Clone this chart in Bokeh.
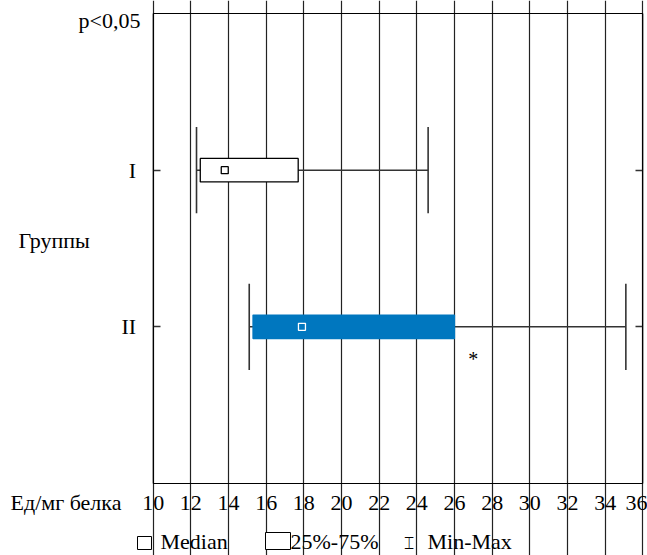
from bokeh.plotting import figure
from bokeh.models import (FixedTicker, LinearAxis, Label, ColumnDataSource,
                          BoxAnnotation, Range1d)
from bokeh.core.properties import value
from bokeh.embed import file_html
from bokeh.resources import INLINE

# ---- data ----
groups = ["I", "II"]
mins = [12.3, 15.1]
q1 = [12.5, 15.3]
medians = [13.8, 17.9]
q3 = [17.7, 26.0]
maxs = [24.6, 35.1]
box_fill = ["white", "#0077BF"]
box_line = ["black", "#0077BF"]
median_line = ["black", "white"]
median_fill = ["white", "#0077BF"]
x_ticks = [10, 12, 14, 16, 18, 20, 22, 24, 26, 28, 30, 32, 34, 36]
star_values = [27.0]
star_groups = ["II"]

SERIF = "Liberation Serif"
FS = "22px"
W, H = 647, 555

# plot-area placement in canvas pixels (frame spans whole canvas)
PL, PR, PT, PB = 152.7, 642.3, 13.0, 483.0
xmin, xmax = x_ticks[0], x_ticks[-1]
n = len(groups)
ymin, ymax = 0, n + 1
kx = (PR - PL) / (xmax - xmin)
ky = (PB - PT) / (ymax - ymin)
x_range = Range1d(xmin - PL / kx, xmax + (W - PR) / kx)
y_range = Range1d(ymin - (H - PB) / ky, ymax + PT / ky)

ypos = [n - i for i in range(n)]          # I -> 2, II -> 1
ymap = dict(zip(groups, ypos))
cap = 0.275
half_box = 0.075

src = ColumnDataSource(dict(
    y=ypos, ytop=[y + cap for y in ypos], ybot=[y - cap for y in ypos],
    btop=[y + half_box for y in ypos], bbot=[y - half_box for y in ypos],
    mn=mins, q1=q1, med=medians, q3=q3, mx=maxs,
    bfill=box_fill, bline=box_line, mline=median_line, mfill=median_fill,
))

p = figure(width=W, height=H, output_backend="svg", toolbar_location=None,
           x_range=x_range, y_range=y_range, min_border=0)
p.background_fill_color = "white"
p.border_fill_color = "white"
p.outline_line_color = None

# grid
p.xgrid.ticker = FixedTicker(ticks=x_ticks)
p.xgrid.bounds = (ymin, ymax)
p.xgrid.grid_line_color = "#222222"
p.xgrid.grid_line_width = 1.2
p.ygrid.grid_line_color = None

# bottom axis
xa = p.xaxis[0]
xa.fixed_location = ymin
xa.bounds = (xmin, xmax)
xa.ticker = FixedTicker(ticks=x_ticks)
xa.major_tick_in = 0
xa.major_tick_out = 0
xa.minor_tick_line_color = None
xa.major_label_standoff = 12
xa.major_label_text_font = SERIF
xa.major_label_text_font_size = FS
xa.major_label_text_color = "black"
xa.axis_line_color = "black"

# left axis
ya = p.yaxis[0]
ya.fixed_location = xmin
ya.bounds = (ymin, ymax)
ya.ticker = FixedTicker(ticks=ypos)
ya.major_label_overrides = {y: g for y, g in zip(ypos, groups)}
ya.major_tick_in = 7
ya.major_tick_out = 0
ya.major_tick_line_color = "#333333"
ya.major_tick_line_width = 1.5
ya.minor_tick_line_color = None
ya.major_label_standoff = 17
ya.major_label_text_font = SERIF
ya.major_label_text_font_size = FS
ya.major_label_text_color = "black"
ya.axis_line_color = "black"

# right axis (ticks only)
ra = LinearAxis(fixed_location=xmax, bounds=(ymin, ymax), ticker=FixedTicker(ticks=ypos),
                major_tick_in=7, major_tick_out=0,
                major_label_overrides={y: "" for y in ypos}, major_label_standoff=0,
                minor_tick_line_color=None, major_tick_line_color="#333333",
                major_tick_line_width=1.5, axis_line_color="black")
p.add_layout(ra, "right")

# plot-area border
p.add_layout(BoxAnnotation(left=xmin, right=xmax, bottom=ymin, top=ymax,
                           fill_alpha=0, line_color="black", line_width=1, line_alpha=1))

# whiskers
p.segment(x0="mn", x1="mx", y0="y", y1="y", source=src, line_color="#333333", line_width=1.5)
p.segment(x0="mn", x1="mn", y0="ybot", y1="ytop", source=src, line_color="#333333", line_width=1.6)
p.segment(x0="mx", x1="mx", y0="ybot", y1="ytop", source=src, line_color="#333333", line_width=1.6)
# boxes
p.quad(left="q1", right="q3", bottom="bbot", top="btop", source=src,
       fill_color="bfill", line_color="bline", line_width=1.3)
# medians
p.scatter(x="med", y="y", source=src, marker="square", size=7,
          fill_color="mfill", line_color="mline", line_width=1.3)

# asterisk
star_src = ColumnDataSource(dict(x=star_values, y=[ymap[g] for g in star_groups],
                                 t=["*"] * len(star_values)))
p.text(x="x", y="y", text="t", source=star_src, text_font=value(SERIF), text_font_size="20px",
       text_align="center", text_baseline="middle", y_offset=32, text_color="black")

TEXT_SHIFT = 8  # renderer places alphabetic baseline this much lower

def lab(txt, x, ybase, align="left", font=SERIF, size=FS, shift=TEXT_SHIFT):
    # x, ybase: canvas pixels from the top-left corner
    p.add_layout(Label(x=x, y=H - ybase + shift, x_units="screen", y_units="screen", text=txt,
                       text_align=align, text_baseline="alphabetic",
                       text_font=font, text_font_size=size, text_color="black"))

def box(l, r, t, b):
    p.add_layout(BoxAnnotation(left=l, right=r, top=H - t, bottom=H - b,
                               left_units="screen", right_units="screen",
                               top_units="screen", bottom_units="screen",
                               fill_color="white", fill_alpha=1,
                               line_color="black", line_width=1, line_alpha=1))

lab("p<0,05", 140, 28, align="right")
lab("Группы", 18, 248)
lab("Ед/мг белка", 10, 510)

# legend
LB = 549  # legend baseline
box(137, 151, LB - 13, LB)
lab("Median", 160, LB)
box(265, 290, LB - 17, LB)
lab("25%-75%", 290, LB)
lab("\u2336", 408, LB - 1, align="center", font="DejaVu Sans", size="17px", shift=6)
lab("Min-Max", 427, LB)

open("out.html", "w").write(file_html(p, INLINE))
